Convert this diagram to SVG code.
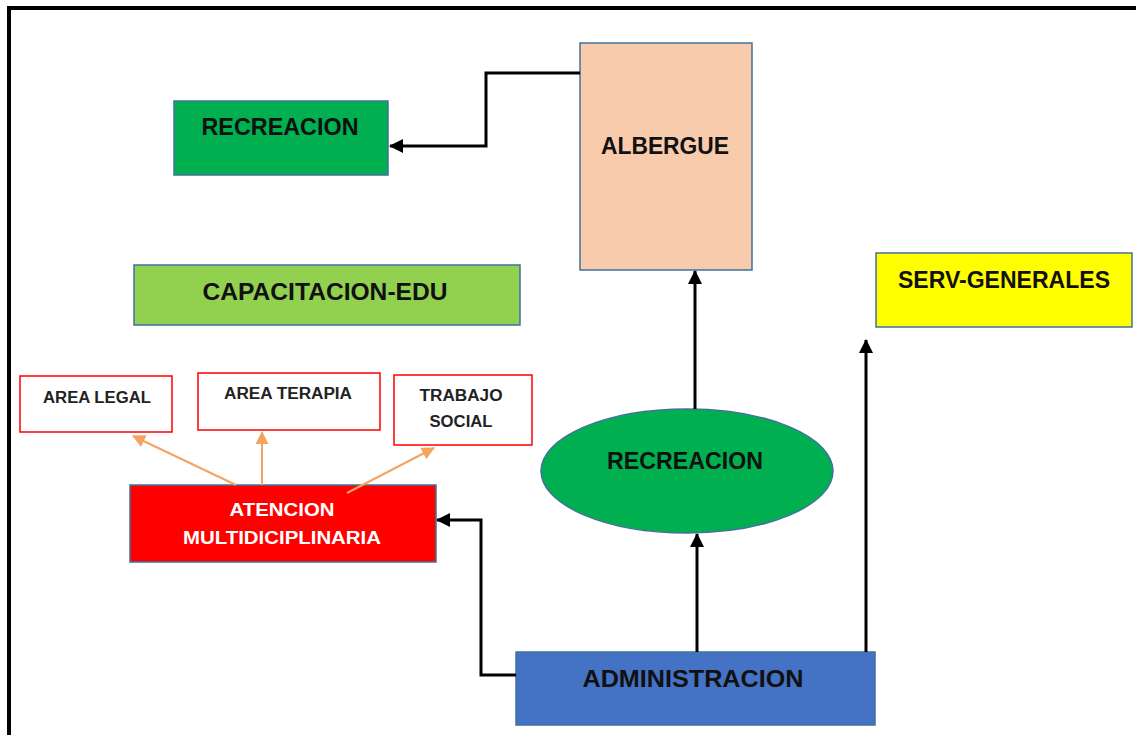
<svg xmlns="http://www.w3.org/2000/svg" width="1136" height="735" viewBox="0 0 1136 735">
<defs>
<marker id="ab" markerUnits="userSpaceOnUse" markerWidth="14" markerHeight="14" viewBox="0 0 14 14" refX="13" refY="7" orient="auto">
<path d="M0,0 L14,7 L0,14 Z" fill="#000"/>
</marker>
<marker id="ao" markerUnits="userSpaceOnUse" markerWidth="13" markerHeight="13" viewBox="0 0 13 13" refX="12" refY="6.5" orient="auto">
<path d="M0,0 L13,6.5 L0,13 Z" fill="#F4A460"/>
</marker>
<style>
.n{stroke:#41719C;stroke-width:1.5}
.w{fill:#fff;stroke:#FF0000;stroke-width:1.5}
.t{font-family:"Liberation Sans",Arial,sans-serif;font-weight:bold;font-size:23px;fill:#111;text-anchor:middle}
.s{font-family:"Liberation Sans",Arial,sans-serif;font-weight:bold;font-size:16px;fill:#222;text-anchor:middle}
.m{font-family:"Liberation Sans",Arial,sans-serif;font-weight:bold;font-size:18px;fill:#fff;text-anchor:middle}
.c{fill:none;stroke:#000;stroke-width:3}
.o{fill:none;stroke:#F4A460;stroke-width:2}
</style>
</defs>
<rect width="1136" height="735" fill="#fff"/>
<path d="M9,735 L9,8 L1136,8" fill="none" stroke="#000" stroke-width="4"/>

<g id="recreacion-top">
<rect class="n" x="174" y="101" width="214" height="74" fill="#00B050"/>
<text class="t" x="280" y="135" textLength="157" lengthAdjust="spacingAndGlyphs">RECREACION</text>
</g>
<g id="albergue">
<rect class="n" x="580" y="43" width="172" height="227" fill="#F8CBAD"/>
<text class="t" x="665" y="154" textLength="128" lengthAdjust="spacingAndGlyphs">ALBERGUE</text>
</g>
<g id="capacitacion">
<rect class="n" x="134" y="265" width="386" height="60" fill="#92D050"/>
<text class="t" x="325" y="300" textLength="245" lengthAdjust="spacingAndGlyphs">CAPACITACION-EDU</text>
</g>
<g id="serv-generales">
<rect class="n" x="876" y="253" width="256" height="74" fill="#FFFF00"/>
<text class="t" x="1004" y="288" textLength="212" lengthAdjust="spacingAndGlyphs">SERV-GENERALES</text>
</g>
<g id="area-legal">
<rect class="w" x="20" y="376" width="152" height="56"/>
<text class="s" x="97" y="403" textLength="108" lengthAdjust="spacingAndGlyphs">AREA LEGAL</text>
</g>
<g id="area-terapia">
<rect class="w" x="198" y="373" width="182" height="57"/>
<text class="s" x="288" y="399" textLength="128" lengthAdjust="spacingAndGlyphs">AREA TERAPIA</text>
</g>
<g id="trabajo-social">
<rect class="w" x="394" y="375" width="138" height="70"/>
<text class="s" x="461" y="401" textLength="83" lengthAdjust="spacingAndGlyphs">TRABAJO</text>
<text class="s" x="461" y="427" textLength="63" lengthAdjust="spacingAndGlyphs">SOCIAL</text>
</g>
<g id="atencion">
<rect class="n" x="130" y="485" width="306" height="77" fill="#FF0000"/>
<text class="m" x="282" y="516" textLength="105" lengthAdjust="spacingAndGlyphs">ATENCION</text>
<text class="m" x="282" y="544" textLength="198" lengthAdjust="spacingAndGlyphs">MULTIDICIPLINARIA</text>
</g>
<g id="recreacion-ellipse">
<ellipse class="n" cx="687" cy="471" rx="146" ry="62" fill="#00B050"/>
<text class="t" x="685" y="469" textLength="156" lengthAdjust="spacingAndGlyphs">RECREACION</text>
</g>
<g id="administracion">
<rect class="n" x="516" y="652" width="359" height="73" fill="#4472C4"/>
<text class="t" x="693" y="687" textLength="221" lengthAdjust="spacingAndGlyphs">ADMINISTRACION</text>
</g>

<g id="connectors">
<path class="c" d="M580,73 L486,73 L486,146 L390,146" marker-end="url(#ab)"/>
<path class="c" d="M695,409 L695,271" marker-end="url(#ab)"/>
<path class="c" d="M697,652 L697,534" marker-end="url(#ab)"/>
<path class="c" d="M866,652 L866,340" marker-end="url(#ab)"/>
<path class="c" d="M516,675 L481,675 L481,520 L437,520" marker-end="url(#ab)"/>
<path class="o" d="M236,485 L133,436" marker-end="url(#ao)"/>
<path class="o" d="M262,485 L262,432" marker-end="url(#ao)"/>
<path class="o" d="M347,493 L434,448" marker-end="url(#ao)"/>
</g>
</svg>
